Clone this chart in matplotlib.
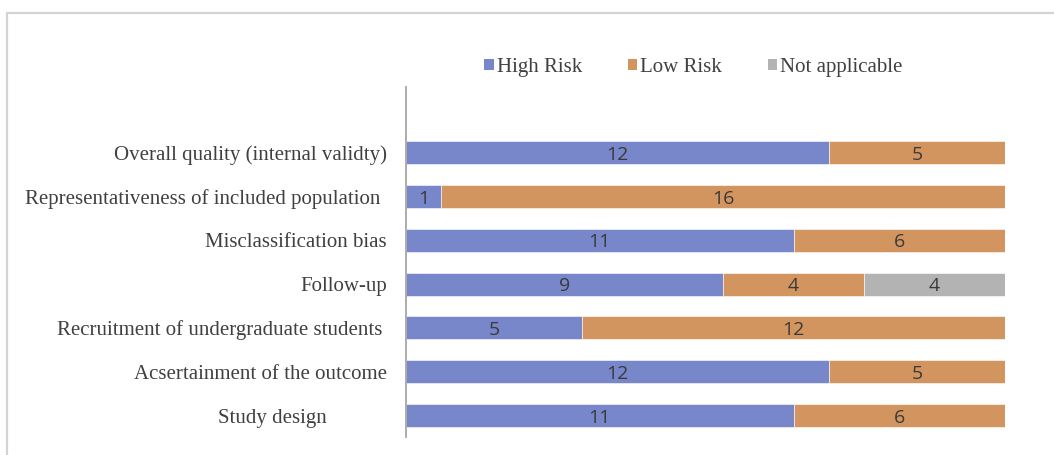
import matplotlib
matplotlib.use("Agg")
import numpy as np
from matplotlib import pyplot as plt
from matplotlib.patches import Rectangle, Patch
from matplotlib.transforms import ScaledTranslation

# data, bottom to top as drawn
categories = [
    "Study design",
    "Acsertainment of the outcome",
    "Recruitment of undergraduate students",
    "Follow-up",
    "Misclassification bias",
    "Representativeness of included population",
    "Overall quality (internal validty)",
]
high_risk = [11, 12, 5, 9, 11, 1, 12]
low_risk = [6, 5, 12, 4, 6, 16, 5]
not_applicable = [0, 0, 0, 4, 0, 0, 0]
series_names = ["High Risk", "Low Risk", "Not applicable"]

colors = ["#7787CA", "#D3955F", "#B3B3B3"]
# extra right gap of some labels (px), like the original
label_gap = [60, 0, 5, 0, 0, 7, 0]


def main():
	fig = plt.figure(figsize=(10.54, 4.55), dpi=100)
	ax = fig.add_axes([0.385, 0.0396, 0.9535 - 0.385, 0.809 - 0.0396])

	y = np.arange(len(categories))
	left = np.zeros(len(categories))
	for vals, name, c in zip([high_risk, low_risk, not_applicable], series_names, colors):
		vals = np.array(vals)
		bars = ax.barh(y, vals, left=left, height=0.525, color=c, label=name,
			edgecolor="white", linewidth=0.4)
		for b, v in zip(bars, vals):
			if v > 0:
				ax.text(b.get_x() + b.get_width() / 2, b.get_y() + b.get_height() / 2 - 0.05,
					str(v), ha="center", va="center", fontsize=14,
					family=["Open Sans", "DejaVu Sans"], color="#3A3A3A")
		left = left + vals

	ax.set_xlim(0, 17)
	ax.set_ylim(-0.49, 7.5)
	ax.set_xticks([])
	ax.set_yticks(y)
	ax.set_yticklabels(categories, family=["Liberation Serif"], fontsize=15, color="#404040")
	ax.tick_params(axis="y", length=0, pad=13.5)
	for lbl, g in zip(ax.get_yticklabels(), label_gap):
		if g:
			lbl.set_transform(lbl.get_transform() + ScaledTranslation(-g / 100, 0, fig.dpi_scale_trans))
	for s in ["top", "right", "bottom"]:
		ax.spines[s].set_visible(False)
	ax.spines["left"].set_color("#A6A6A6")
	ax.spines["left"].set_linewidth(1.3)

	# outer chart frame (cropped on the right and bottom)
	fig.patches.append(Rectangle((0.007, -0.2), 1.5, 0.2 + 0.972, transform=fig.transFigure,
		fill=False, edgecolor="#D4D4D4", linewidth=1.6))

	handles = [Patch(facecolor=c) for c in colors]
	fig.legend(handles, series_names, loc="center", bbox_to_anchor=(0.658, 0.852), ncol=3,
		frameon=False, handlelength=0.45, handleheight=0.45, handletextpad=0.15,
		columnspacing=2.2, prop={"family": "Liberation Serif", "size": 15},
		labelcolor="#404040")

	fig.savefig("out.png", dpi=100)


if __name__ == '__main__':
	main()
